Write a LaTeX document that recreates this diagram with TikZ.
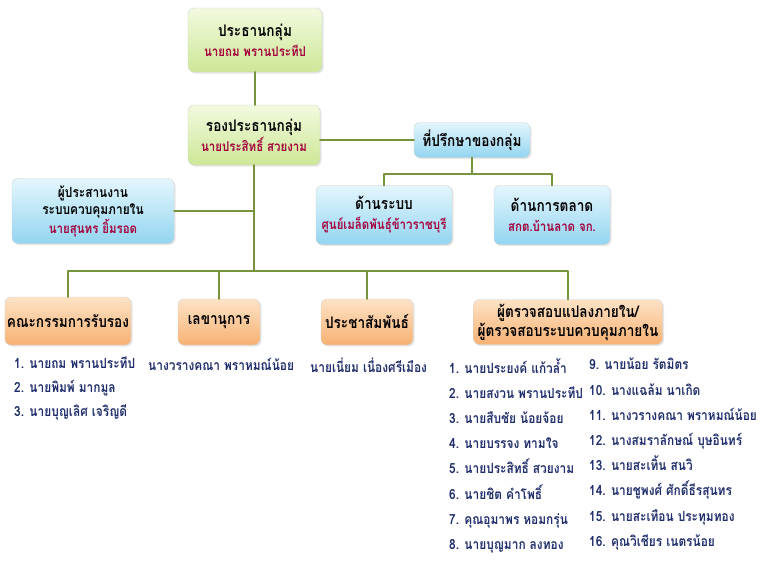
\documentclass[tikz,border=0pt]{standalone}
\usepackage{fontspec}
\newfontfamily\thaifont[Script=Thai, FakeStretch=0.85]{Loma}
\usetikzlibrary{shadows}
\definecolor{limetop}{HTML}{F2FADF}
\definecolor{limebot}{HTML}{CDE796}
\definecolor{skytop}{HTML}{E4F6FD}
\definecolor{skybot}{HTML}{93D5F0}
\definecolor{peachtop}{HTML}{FDE3C6}
\definecolor{peachbot}{HTML}{F7B172}
\definecolor{olive}{HTML}{77933C}
\definecolor{namered}{HTML}{A3003C}
\definecolor{navy}{HTML}{1F2D6B}
\newcommand{\whoname}[1]{{\color{namered}\fontsize{13.5}{16}\selectfont #1}}
\tikzset{
  box/.style={rectangle, rounded corners=6pt, draw=black!18, align=center,
    inner xsep=2pt,
    drop shadow={opacity=0.2, shadow xshift=1.5pt, shadow yshift=-1.5pt},
    font=\thaifont\bfseries\fontsize{16}{20}\selectfont},
  greenbox/.style={box, top color=limetop, bottom color=limebot},
  bluebox/.style={box, top color=skytop, bottom color=skybot},
  orangebox/.style={box, top color=peachtop, bottom color=peachbot},
  link/.style={draw=olive, line width=2.5pt},
  namelist/.style={anchor=north west, align=left, text=navy, inner sep=0pt,
    font=\thaifont\bfseries\fontsize{14}{25.2}\selectfont}
}
\begin{document}
\begin{tikzpicture}[x=1pt, y=-1pt, line cap=round, line join=round]
  % page frame: pixel coordinates, y grows downwards
  \useasboundingbox (0,0) rectangle (760,584);

  % bend points of the connectors
  \coordinate (advbus) at (472,174);
  \coordinate (bus) at (254,271);

  % chair and vice chair
  \node[greenbox, minimum width=134pt, minimum height=64pt] (chair) at (255,40)
    {ประธานกลุ่ม\\\whoname{นายถม พรานประทีป}};
  \node[greenbox, minimum width=132pt, minimum height=60pt] (vice) at (254,135)
    {รองประธานกลุ่ม\\\whoname{นายประสิทธิ์ สวยงาม}};

  % advisers
  \node[bluebox, minimum width=116pt, minimum height=35pt] (advisor) at (472,140)
    {ที่ปรึกษาของกลุ่ม};
  \node[bluebox, minimum width=136pt, minimum height=59pt] (system) at (384,215)
    {ด้านระบบ\\\whoname{ศูนย์เมล็ดพันธุ์ข้าวราชบุรี}};
  \node[bluebox, minimum width=116pt, minimum height=59pt] (market) at (552,215)
    {ด้านการตลาด\\\whoname{สกต.บ้านลาด จก.}};

  % internal control coordinator
  \node[bluebox, minimum width=162pt, minimum height=65pt,
    font=\thaifont\bfseries\fontsize{14}{17}\selectfont] (coord) at (93,211)
    {ผู้ประสานงาน\\ระบบควบคุมภายใน\\\whoname{นายสุนทร ยิ้มรอด}};

  % bottom row
  \node[orangebox, minimum width=121pt, minimum height=48pt] (committee) at (68,321)
    {คณะกรรมการรับรอง};
  \node[orangebox, minimum width=82pt, minimum height=46pt] (secretary) at (219,322)
    {เลขานุการ};
  \node[orangebox, minimum width=92pt, minimum height=46pt] (pr) at (367,322)
    {ประชาสัมพันธ์};
  \node[orangebox, minimum width=189pt, minimum height=45pt,
    font=\thaifont\bfseries\fontsize{16}{19}\selectfont] (audit) at (568,322)
    {ผู้ตรวจสอบแปลงภายใน/\\ผู้ตรวจสอบระบบควบคุมภายใน};

  % connectors
  \draw[link] (chair.south) -- (chair.south |- vice.north);
  \draw[link] (advisor.west) -- (advisor.west -| vice.east);
  \draw[link] (advisor.south) -- (advbus);
  \draw[link] (system.north) |- (advbus) -| (market.north);
  \draw[link] (vice.south) -- (bus);
  \draw[link] (coord.east) -- (coord.east -| bus);
  \draw[link] (committee.north) |- (bus) -| (audit.north);
  \draw[link] (secretary.north) -- (secretary.north |- bus);
  \draw[link] (pr.north) -- (pr.north |- bus);

  % member lists
  \node[namelist, font=\thaifont\bfseries\fontsize{14}{24}\selectfont] (comlist) at (14,356)
    {1. นายถม พรานประทีป\\2. นายพิมพ์ มากมูล\\3. นายบุญเลิศ เจริญดี};
  \node[namelist] (seclist) at (148,358) {นางวรางคณา พราหมณ์น้อย};
  \node[namelist] (prlist) at (310,358) {นายเนี่ยม เนื่องศรีเมือง};
  \node[namelist] (auditlistA) at (449,358)
    {1. นายประยงค์ แก้วล้ำ\\2. นายสงวน พรานประทีป\\3. นายสืบชัย น้อยจ้อย\\%
     4. นายบรรจง ทามใจ\\5. นายประสิทธิ์ สวยงาม\\6. นายชิต คำโพธิ์\\%
     7. คุณอุมาพร หอมกรุ่น\\8. นายบุญมาก ลงทอง};
  \node[namelist] (auditlistB) at (589,358)
    {9. นายน้อย รัตมิตร\\10. นางแฉล้ม นาเกิด\\11. นางวรางคณา พราหมณ์น้อย\\%
     12. นางสมราลักษณ์ บุษอินทร์\\13. นายสะเทิ้น สนวิ\\%
     14. นายชูพงศ์ ศักดิ์ธีรสุนทร\\15. นายสะเทือน ประทุมทอง\\16. คุณวิเชียร เนตรน้อย};
\end{tikzpicture}
\end{document}
